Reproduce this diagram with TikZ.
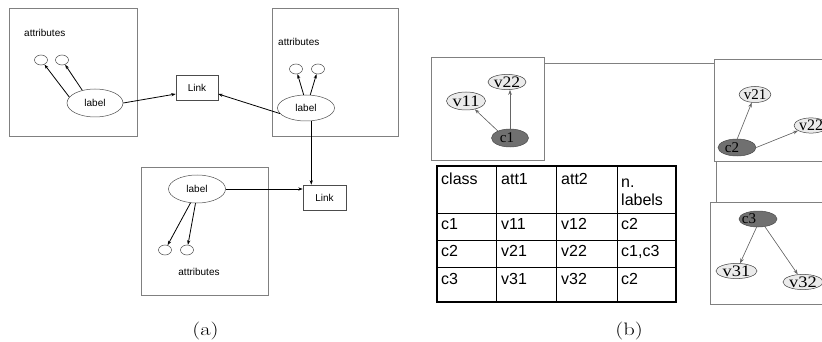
\documentclass[tikz,border=0pt]{standalone}
\usepackage{fontspec}
\usepackage{graphicx}
\newfontfamily\arialf{Liberation Sans}
\newfontfamily\timesf{Liberation Serif}
\usetikzlibrary{shapes.geometric,arrows.meta}
\definecolor{boxgray}{HTML}{808080}
\definecolor{darknode}{HTML}{707070}
\definecolor{lightnode}{HTML}{EBEBEB}
\definecolor{edgegray}{HTML}{666666}
\newcommand{\wide}[2]{\scalebox{#1}[1]{#2}}
\begin{document}
\begin{tikzpicture}[x=1pt,y=-1pt,
  panel/.style={rectangle, draw=boxgray, line width=0.6pt, inner sep=0pt},
  atext/.style={font=\arialf\fontsize{10}{12}\selectfont, inner sep=0pt},
  lab/.style={ellipse, draw=black!70, line width=0.5pt, minimum width=56pt, minimum height=28pt, inner sep=0pt, font=\arialf\fontsize{10}{12}\selectfont},
  att/.style={ellipse, draw=black!70, line width=0.5pt, minimum width=13pt, minimum height=10pt, inner sep=0pt},
  linkbox/.style={rectangle, draw=black!70, line width=0.5pt, minimum width=42pt, minimum height=25pt, inner sep=0pt, font=\arialf\fontsize{10}{12}\selectfont},
  aarrow/.style={-{Stealth[length=4.5pt,width=3.2pt]}, line width=0.8pt},
  vnode/.style={ellipse, draw=black!75, fill=lightnode, line width=0.5pt, inner sep=0pt, font=\timesf\fontsize{16}{16}\selectfont},
  cnode/.style={ellipse, draw=black!70, fill=darknode, line width=0.5pt, inner sep=0pt},
  ctext/.style={font=\timesf\fontsize{15}{15}\selectfont, inner sep=0pt},
  barrow/.style={-{Stealth[length=5pt,width=3.6pt]}, draw=edgegray, fill=edgegray, line width=0.6pt},
  tline/.style={line width=0.6pt},
  ttext/.style={anchor=base west, inner sep=0pt, font=\arialf\fontsize{16}{18}\selectfont},
  caption/.style={inner sep=0pt, font=\fontsize{18}{20}\selectfont}
]
\useasboundingbox (0,0) rectangle (822,342);
\clip (0,0) rectangle (822,342);

% ---------------- (a) ----------------
\node[panel, minimum width=128pt, minimum height=128pt] (pa1) at (73,72) {};
\node[panel, minimum width=126pt, minimum height=128pt] (pa2) at (335,72) {};
\node[panel, minimum width=127pt, minimum height=128pt] (pa3) at (204.5,231) {};

\node[atext, anchor=base west] (t1) at (24,37) {attributes};
\node[atext, anchor=base west] (t2) at (278,46) {attributes};
\node[atext, anchor=base] (t3) at (199,275) {attributes};

\node[lab] (lab1) at (95,103) {label};
\node[lab, minimum width=57pt, minimum height=26pt] (lab2) at (306,108) {label};
\node[lab, minimum width=57pt] (lab3) at (197,189) {label};

\node[att] (a1) at (41,60) {};
\node[att] (a2) at (62,60) {};
\node[att] (a3) at (296,69) {};
\node[att] (a4) at (318,69) {};
\node[att] (a5) at (165,250) {};
\node[att] (a6) at (187,250) {};

\node[linkbox] (link1) at (197,88) {Link};
\node[linkbox, minimum width=43pt] (link2) at (324.5,197.5) {Link};

\draw[aarrow] (lab1.167) -- (a1);
\draw[aarrow] (lab1.135) -- (a2);
\draw[aarrow] (lab2.100) -- (a3);
\draw[aarrow] (lab2.72) -- (a4);
\draw[aarrow] (lab3.-115) -- (a5);
\draw[aarrow] (lab3.-96) -- (a6);
\draw[aarrow] (lab1.east) -- ([yshift=-6pt]link1.west);
\draw[aarrow] (lab2.192) -- ([yshift=-6pt]link1.east);
\draw[aarrow] (lab2.-68) -- (lab2.-68 |- link2.north);
\draw[aarrow] (lab3.east) -- (lab3.east -| link2.west);

\node[caption] (capa) at (205.5,331.5) {\wide{1.25}{(a)}};

% ---------------- (b) ----------------
\node[panel, minimum width=113pt, minimum height=103pt] (b1) at (487.5,108.5) {};
\node[panel, minimum width=126pt, minimum height=102pt] (b2) at (777,110) {};
\node[panel, minimum width=126pt, minimum height=102pt] (b3) at (773,253) {};
\draw[draw=boxgray, line width=0.6pt] ([yshift=-7pt]b1.north east) -- ([yshift=-7pt]b1.north east -| b2.west);
\draw[draw=boxgray, line width=0.6pt] ([xshift=3pt]b2.south west) -- ([xshift=3pt]b2.south west |- b3.north);

% graph 1
\node[vnode, minimum width=39pt, minimum height=18pt] (v11) at (466,101) {\wide{1.15}{v11}};
\node[vnode, minimum width=38pt, minimum height=15pt] (v22) at (507,82) {\wide{1.1}{v22}};
\node[cnode, minimum width=37pt, minimum height=18pt] (c1) at (510,138) {};
\node[ctext] at ([xshift=-3pt]c1.center) {c1};
\draw[barrow] (c1.150) -- (v11);
\draw[barrow] (c1.north) -- (c1.north |- v22.south);

% graph 2
\node[vnode, minimum width=29pt, minimum height=16pt, font=\timesf\fontsize{15}{15}\selectfont] (v21) at (755,94.5) {v21};
\node[vnode, minimum width=32pt, minimum height=15pt] (v22b) at (811,125.5) {v22};
\node[cnode, minimum width=38pt, minimum height=17pt] (c2) at (737,147.5) {};
\node[ctext] at ([xshift=-5pt]c2.center) {c2};
\draw[barrow] (c2.88) -- (v21);
\draw[barrow] (c2.east) -- (v22b);

% graph 3
\node[cnode, minimum width=38pt, minimum height=16pt] (c3) at (758,219) {};
\node[ctext] at ([xshift=-9pt]c3.center) {c3};
\node[vnode, minimum width=41pt, minimum height=15pt] (v31) at (736.5,271) {\wide{1.15}{v31}};
\node[vnode, minimum width=40pt, minimum height=15pt] (v32) at (803,282) {\wide{1.15}{v32}};
\draw[barrow] (c3.-100) -- (v31);
\draw[barrow] (c3.-48) -- (v32);

% table
\draw[line width=1.4pt] (437,166) rectangle (676,302);
\foreach \cx in {496,556,617} \draw[tline] (\cx,166) -- (\cx,302);
\foreach \ry in {213,240,267} \draw[tline] (437,\ry) -- (676,\ry);

\node[ttext] (h1) at (441,185) {class};
\node[ttext] (h2) at (501,185) {att1};
\node[ttext] (h3) at (561,185) {att2};
\node[ttext] (h4) at (621,187) {n.};
\node[ttext] (h5) at (621,205) {labels};

\node[ttext] (r11) at (441,229) {c1};
\node[ttext] (r12) at (501,229) {v11};
\node[ttext] (r13) at (561,229) {v12};
\node[ttext] (r14) at (621,229) {c2};

\node[ttext] (r21) at (441,256) {c2};
\node[ttext] (r22) at (501,256) {v21};
\node[ttext] (r23) at (561,256) {v22};
\node[ttext] (r24) at (621,256) {c1,c3};

\node[ttext] (r31) at (441,284) {c3};
\node[ttext] (r32) at (501,284) {v31};
\node[ttext] (r33) at (561,284) {v32};
\node[ttext] (r34) at (621,284) {c2};

\node[caption] (capb) at (629,331) {\wide{1.25}{(b)}};
\end{tikzpicture}
\end{document}
